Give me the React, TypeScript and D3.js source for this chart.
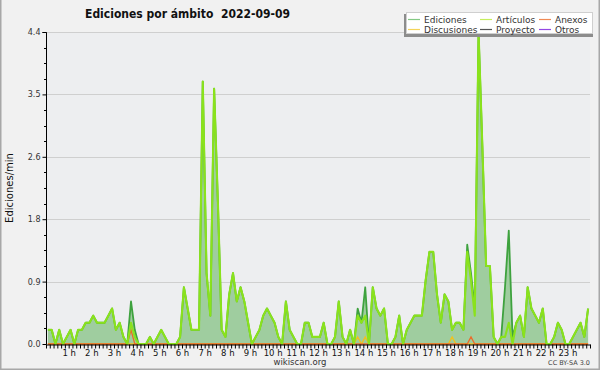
import { useEffect, useRef } from 'react';
import * as d3 from 'd3';

const W = 600;
const H = 370;
const margin = { top: 32, right: 10, bottom: 26, left: 46 };

// edits per minute, one value per 10-minute bin (00:00 ... 23:50)
const ediciones = [
  0.2, 0.2, 0, 0.2, 0, 0.1, 0.2, 0, 0.2, 0.2, 0.3, 0.3,
  0.4, 0.3, 0.3, 0.3, 0.4, 0.5, 0.2, 0.3, 0.1, 0, 0.6, 0.2,
  0, 0, 0, 0.1, 0, 0.1, 0.2, 0.1, 0, 0, 0, 0.1,
  0.8, 0.5, 0.2, 0.2, 0.2, 3.7, 1.0, 0.4, 3.6, 2.0, 0.2, 0.1,
  0.7, 1.0, 0.6, 0.8, 0.6, 0.3, 0, 0.1, 0.2, 0.4, 0.5, 0.4,
  0.3, 0.1, 0, 0.6, 0.2, 0.1, 0, 0, 0.3, 0.3, 0.1, 0.1,
  0.1, 0.3, 0, 0, 0.1, 0.6, 0.1, 0, 0.2, 0, 0.5, 0.3,
  0.8, 0, 0.8, 0.5, 0.4, 0.5, 0, 0, 0.1, 0.4, 0, 0.2,
  0.3, 0.4, 0.4, 0.4, 0.9, 1.3, 1.3, 0.7, 0.3, 0.7, 0.6, 0.2,
  0.3, 0.3, 0.2, 1.4, 1.0, 0.5, 4.4, 2.8, 1.1, 1.1, 0.1, 0,
  0.1, 0.8, 1.6, 0.1, 0.3, 0.4, 0.1, 0.8, 0.5, 0.4, 0.3, 0.5,
  0, 0, 0.1, 0.3, 0.2, 0, 0, 0.1, 0.2, 0.3, 0.1, 0.5,
];

const articulos = [
  0.2, 0.2, 0, 0.2, 0, 0.1, 0.2, 0, 0.2, 0.2, 0.3, 0.3,
  0.4, 0.3, 0.3, 0.3, 0.4, 0.5, 0.2, 0.3, 0.1, 0, 0.3, 0.1,
  0, 0, 0, 0.1, 0, 0.1, 0.2, 0.1, 0, 0, 0, 0.1,
  0.8, 0.5, 0.2, 0.2, 0.2, 3.7, 1.0, 0.4, 3.6, 2.0, 0.2, 0.1,
  0.7, 1.0, 0.6, 0.8, 0.6, 0.3, 0, 0.1, 0.2, 0.4, 0.5, 0.4,
  0.3, 0.1, 0, 0.6, 0.2, 0.1, 0, 0, 0.3, 0.3, 0.1, 0.1,
  0.1, 0.3, 0, 0, 0.1, 0.6, 0.1, 0, 0.2, 0, 0.4, 0.3,
  0.4, 0, 0.8, 0.5, 0.4, 0.5, 0, 0, 0.1, 0.4, 0, 0.2,
  0.3, 0.4, 0.4, 0.4, 0.9, 1.3, 1.3, 0.7, 0.3, 0.7, 0.6, 0.2,
  0.3, 0.3, 0.2, 1.3, 0.9, 0.4, 4.4, 2.8, 1.1, 1.1, 0.1, 0,
  0.1, 0.1, 0.3, 0, 0.3, 0.4, 0.1, 0.8, 0.5, 0.4, 0.3, 0.5,
  0, 0, 0.1, 0.3, 0.2, 0, 0, 0.1, 0.2, 0.3, 0.1, 0.5,
];

const anexos = [
  0, 0, 0, 0, 0, 0, 0, 0, 0, 0, 0, 0,
  0, 0, 0, 0, 0, 0, 0, 0, 0, 0, 0.2, 0,
  0, 0, 0, 0, 0, 0, 0, 0, 0, 0, 0, 0,
  0, 0, 0, 0, 0, 0, 0, 0, 0, 0, 0, 0,
  0, 0, 0, 0, 0, 0, 0, 0, 0, 0, 0, 0,
  0, 0, 0, 0, 0, 0, 0, 0, 0, 0, 0, 0,
  0, 0, 0, 0, 0, 0, 0, 0, 0, 0, 0, 0,
  0, 0, 0, 0, 0, 0, 0, 0, 0, 0, 0, 0,
  0, 0, 0, 0, 0, 0, 0, 0, 0, 0, 0, 0,
  0, 0, 0, 0, 0.1, 0, 0, 0, 0, 0, 0, 0,
  0, 0, 0, 0, 0, 0, 0, 0, 0, 0, 0, 0,
  0, 0, 0, 0, 0, 0, 0, 0, 0, 0, 0, 0,
];

const discusiones = [
  0, 0, 0, 0, 0, 0, 0, 0, 0, 0, 0, 0,
  0, 0, 0, 0, 0, 0, 0, 0, 0, 0, 0, 0,
  0, 0, 0, 0, 0, 0, 0, 0, 0, 0, 0, 0,
  0, 0, 0, 0, 0, 0, 0, 0, 0, 0, 0, 0,
  0, 0, 0, 0, 0, 0, 0, 0, 0, 0, 0, 0,
  0, 0, 0, 0, 0, 0, 0, 0, 0, 0, 0, 0,
  0, 0, 0, 0, 0, 0, 0, 0, 0, 0, 0.1, 0,
  0.1, 0, 0, 0, 0, 0, 0, 0, 0, 0, 0, 0,
  0, 0, 0, 0, 0, 0, 0, 0, 0, 0, 0, 0.1,
  0, 0, 0, 0, 0, 0, 0, 0, 0, 0, 0, 0,
  0, 0, 0, 0, 0, 0, 0, 0, 0, 0, 0, 0,
  0, 0, 0, 0, 0, 0, 0, 0, 0, 0, 0, 0,
];

const hourLabels = [1, 2, 3, 4, 5, 6, 7, 8, 9, 10, 11, 12, 13, 14, 15, 16, 17, 18, 19, 20, 21, 22, 23];
const yMax = 4.4;

const legendItems = [
  { name: 'Ediciones', color: '#84c984' },
  { name: 'Artículos', color: '#c6ee5e' },
  { name: 'Anexos', color: '#f08a55' },
  { name: 'Discusiones', color: '#f4d45a' },
  { name: 'Proyecto', color: '#555555' },
  { name: 'Otros', color: '#9448e4' },
];

const FONT = '"DejaVu Sans", sans-serif';

export default function App() {
  const svgRef = useRef<SVGSVGElement>(null);

  useEffect(() => {
    if (!svgRef.current) return;
    const svg = d3.select(svgRef.current);
    svg.selectAll('*').remove();

    const x0 = margin.left;
    const x1 = W - margin.right;
    const y0 = H - margin.bottom;
    const y1 = margin.top;

    const x = d3.scaleLinear().domain([0, 1440]).range([x0, x1]);
    const y = d3.scaleLinear().domain([0, yMax]).range([y0, y1]);
    const binX = (_: number, i: number) => x(i * 10 + 5);

    // background + frame
    svg.append('rect').attr('width', W).attr('height', H).attr('fill', '#f1f1f1');
    svg.append('rect')
      .attr('x', x0).attr('y', y1)
      .attr('width', x1 - x0).attr('height', y0 - y1)
      .attr('fill', '#edeef0');
    svg.append('path')
      .attr('d', `M0.75,0 V${H - 0.75} H${W - 0.75} V0`)
      .attr('fill', 'none')
      .attr('stroke', '#a8a8a8')
      .attr('stroke-width', 1.5);

    // grid
    const majorTicks = d3.range(0, 6).map(k => (k * yMax) / 5);
    const minorTicks = d3.range(0, 21).map(k => (k * yMax) / 20);
    svg.append('g')
      .selectAll('line')
      .data(majorTicks.slice(1))
      .join('line')
      .attr('x1', x0).attr('x2', x1)
      .attr('y1', d => Math.round(y(d)) + 0.5)
      .attr('y2', d => Math.round(y(d)) + 0.5)
      .attr('stroke', '#cfcfcf');

    // series
    const area = d3.area<number>().x(binX).y0(y(0)).y1(d => y(d));
    const line = d3.line<number>().x(binX).y(d => y(d));

    svg.append('path').datum(ediciones).attr('d', area).attr('fill', '#9fcd9f');

    svg.append('path').datum(discusiones).attr('d', line)
      .attr('fill', 'none').attr('stroke', '#f2c21c').attr('stroke-width', 1.3);
    svg.append('path').datum(anexos).attr('d', line)
      .attr('fill', 'none').attr('stroke', '#ec6a2a').attr('stroke-width', 1.3);
    svg.append('path').datum(ediciones).attr('d', line)
      .attr('fill', 'none').attr('stroke', '#3ea23e').attr('stroke-width', 1.8)
      .attr('stroke-linejoin', 'round');
    svg.append('path').datum(articulos).attr('d', line)
      .attr('fill', 'none').attr('stroke', '#8ae21c').attr('stroke-width', 2.1)
      .attr('stroke-linejoin', 'round');

    // y axis
    const yAxis = d3.axisLeft(y)
      .tickValues(majorTicks)
      .tickFormat(d => d3.format('.1f')(d as number))
      .tickSize(4)
      .tickPadding(2);
    const gy = svg.append('g').attr('transform', `translate(${x0 + 0.5},0)`).call(yAxis);
    gy.select('.domain').attr('stroke', '#000').attr('d', `M-4,${y1 + 0.5}H0V${y0 + 0.5}`);
    gy.selectAll('.tick line').attr('stroke', '#000');
    gy.selectAll('.tick text')
      .attr('font-family', FONT).attr('font-size', 8).attr('fill', '#333');
    gy.append('g')
      .selectAll('line')
      .data(minorTicks.filter((_, k) => k % 4 !== 0))
      .join('line')
      .attr('x1', -2.5).attr('x2', 0)
      .attr('y1', d => Math.round(y(d)) + 0.5)
      .attr('y2', d => Math.round(y(d)) + 0.5)
      .attr('stroke', '#000');

    // x axis
    const xAxis = d3.axisBottom(x)
      .tickValues(d3.range(0, 1441, 10))
      .tickFormat(d => {
        const m = d as number;
        return m % 60 === 0 && hourLabels.includes(m / 60) ? `${m / 60} h` : '';
      })
      .tickSize(4)
      .tickSizeOuter(0)
      .tickPadding(1);
    const gx = svg.append('g').attr('transform', `translate(0,${y0 + 0.5})`).call(xAxis);
    gx.select('.domain').attr('stroke', '#000');
    gx.selectAll('.tick line').attr('stroke', '#000');
    gx.selectAll('.tick text')
      .attr('font-family', FONT).attr('font-size', 8.5).attr('fill', '#111');

    // axis title
    svg.append('text')
      .attr('transform', `translate(13,${188}) rotate(-90)`)
      .attr('text-anchor', 'middle')
      .attr('font-family', FONT).attr('font-size', 10).attr('fill', '#111')
      .text('Ediciones/min');

    // title
    svg.append('text')
      .attr('x', 85).attr('y', 18)
      .attr('font-family', FONT).attr('font-size', 12.5).attr('font-weight', 'bold')
      .attr('fill', '#111')
      .attr('textLength', 205).attr('lengthAdjust', 'spacingAndGlyphs')
      .style('white-space', 'pre')
      .text('Ediciones por ámbito  2022-09-09');

    // footer
    svg.append('text')
      .attr('x', 300).attr('y', 365)
      .attr('text-anchor', 'middle')
      .attr('font-family', FONT).attr('font-size', 8.5).attr('fill', '#333')
      .text('wikiscan.org');
    svg.append('text')
      .attr('x', 590).attr('y', 364.5)
      .attr('text-anchor', 'end')
      .attr('font-family', FONT).attr('font-size', 6.5).attr('fill', '#444')
      .text('CC BY-SA 3.0');

    // legend
    const lg = svg.append('g');
    lg.append('rect')
      .attr('x', 404).attr('y', 14).attr('width', 189).attr('height', 23)
      .attr('fill', '#8c8c8c');
    lg.append('rect')
      .attr('x', 406.5).attr('y', 12.5).attr('width', 186).attr('height', 21)
      .attr('fill', '#ffffff').attr('stroke', '#cfcfcf');
    const colX = [408, 480, 539];
    const rowY = [19, 29];
    legendItems.forEach((item, k) => {
      const cx = colX[k % 3];
      const cy = rowY[Math.floor(k / 3)];
      lg.append('line')
        .attr('x1', cx).attr('x2', cx + 12)
        .attr('y1', cy + 0.5).attr('y2', cy + 0.5)
        .attr('stroke', item.color).attr('stroke-width', 1.2);
      lg.append('text')
        .attr('x', cx + 16).attr('y', cy + 3.5)
        .attr('font-family', FONT).attr('font-size', 9).attr('fill', '#333')
        .text(item.name);
    });
  }, []);

  return (
    <div style={{ position: 'absolute', left: 0, top: 0 }}>
      <svg ref={svgRef} width={W} height={H} style={{ display: 'block' }} />
    </div>
  );
}
